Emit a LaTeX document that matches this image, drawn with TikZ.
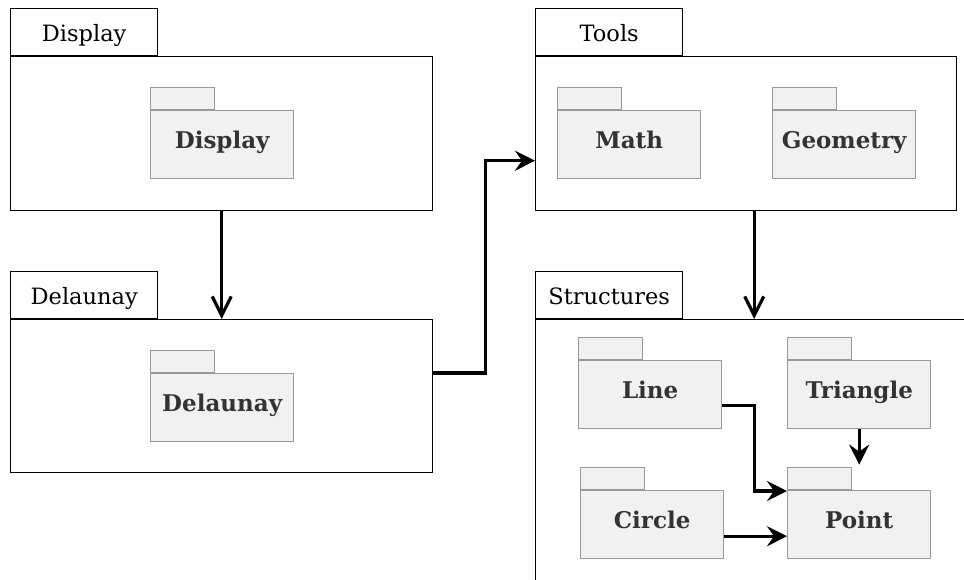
\documentclass[tikz,border=0pt]{standalone}
\usepackage{fontspec}
\setmainfont{DejaVu Serif}
\usetikzlibrary{arrows.meta,positioning}
\definecolor{pkgfill}{HTML}{F1F1F1}
\definecolor{pkgline}{HTML}{999999}
\definecolor{pkgtext}{HTML}{333333}
\tikzset{
  outerbody/.style={draw=black, line width=1.4pt, fill=white, rectangle, inner sep=0pt, anchor=north west},
  outertab/.style={draw=black, line width=1.4pt, fill=white, rectangle, inner sep=0pt, anchor=south west,
    minimum width=147pt, minimum height=47pt, font=\fontsize{22.5}{26}\selectfont,
    text height=22pt, text depth=3pt},
  innerbody/.style={draw=pkgline, line width=1.4pt, fill=pkgfill, rectangle, inner sep=0pt, anchor=north west,
    minimum width=143pt, minimum height=68pt, text=pkgtext, font=\fontsize{23}{26}\selectfont\bfseries,
    text height=16pt, text depth=8pt},
  innertab/.style={draw=pkgline, line width=1.4pt, fill=pkgfill, rectangle, inner sep=0pt, anchor=south west,
    minimum width=64pt, minimum height=22pt},
  conn/.style={line width=3.2pt, line cap=butt},
  fa/.style={conn, -{Stealth[length=20pt,width=20pt,inset=7pt]}},
  oa/.style={conn, -{Straight Barb[length=19pt,width=19pt]}},
}
\begin{document}
\begin{tikzpicture}[x=1pt,y=-1pt]
\useasboundingbox (0,0) rectangle (964,579);
\clip (0,0) rectangle (964,579);
% Display package
\node[outerbody, minimum width=422pt, minimum height=154pt] (dispB) at (10,56) {};
\node[outertab] (dispT) at (dispB.north west) {Display};
\node[innerbody] (dispIB) at (150,110) {Display};
\node[innertab] (dispIT) at (dispIB.north west) {};
% Delaunay package
\node[outerbody, minimum width=422pt, minimum height=153pt] (delB) at (10,319) {};
\node[outertab] (delT) at (delB.north west) {Delaunay};
\node[innerbody] (delIB) at (150,373) {Delaunay};
\node[innertab] (delIT) at (delIB.north west) {};
% Tools package
\node[outerbody, minimum width=421pt, minimum height=154pt] (toolsB) at (535,56) {};
\node[outertab] (toolsT) at (toolsB.north west) {Tools};
\node[innerbody] (mathB) at (557,110) {Math};
\node[innertab] (mathT) at (mathB.north west) {};
\node[innerbody] (geoB) at (772,110) {Geometry};
\node[innertab] (geoT) at (geoB.north west) {};
% Structures package
\node[outerbody, minimum width=500pt, minimum height=320pt] (strB) at (535,319) {};
\node[outertab] (strT) at (strB.north west) {Structures};
\node[innerbody] (lineB) at (578,360) {Line};
\node[innertab] (lineT) at (lineB.north west) {};
\node[innerbody] (triB) at (787,360) {Triangle};
\node[innertab] (triT) at (triB.north west) {};
\node[innerbody] (circB) at (580,490) {Circle};
\node[innertab] (circT) at (circB.north west) {};
\node[innerbody] (pointB) at (787,490) {Point};
\node[innertab] (pointT) at (pointB.north west) {};
% connectors
\draw[oa] (dispB.south) -- (delB.north);
\draw[fa] ([yshift=-54pt]delB.north east) -- ++(52,0) |- ([yshift=-27pt]toolsB.west);
\draw[oa] ([xshift=8pt]toolsB.south) -- ([xshift=8pt]toolsB.south |- strB.north);
\draw[fa] ([yshift=-11pt]lineB.east) -- ++(32,0) |- ([yshift=-1pt]pointB.north west);
\draw[fa] ([yshift=-11.5pt]circB.east) -- ([yshift=-11.5pt]pointB.west);
\draw[fa] (triB.south) -- ([yshift=2pt]triB.south |- pointT.north);
\end{tikzpicture}
\end{document}
